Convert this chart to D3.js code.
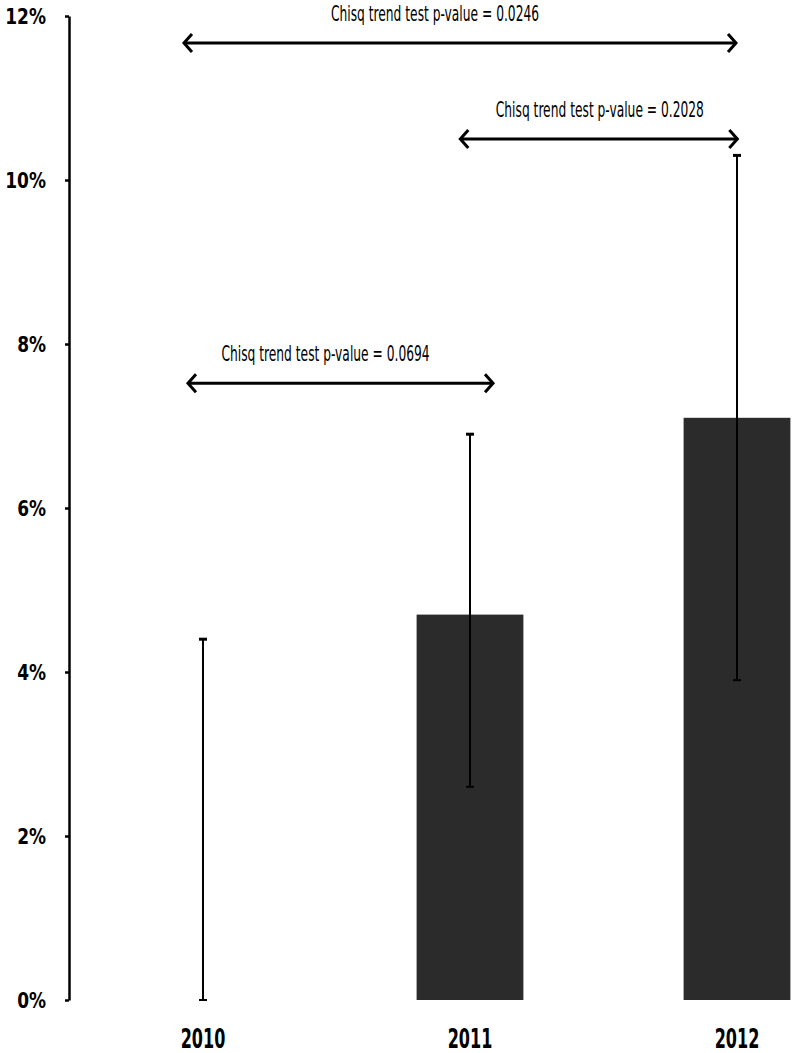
<!DOCTYPE html>
<html>
<head>
<meta charset="utf-8">
<script src="https://cdn.jsdelivr.net/npm/d3@7"></script>
<style>
  body { margin: 0; background: #fff; }
  svg text { font-family: "DejaVu Sans Condensed", "Liberation Sans", sans-serif; }
</style>
</head>
<body>
<div id="chart"></div>
<script>
// data
const years = ["2010", "2011", "2012"];
const rates = [0, 4.7, 7.1];          // %
const ciLow = [0, 2.6, 3.9];
const ciHigh = [4.4, 6.9, 10.3];
const yTicks = [0, 2, 4, 6, 8, 10, 12];

// trend test annotations
const testLabels = ["Chisq trend test p-value = 0.0246", "Chisq trend test p-value = 0.2028", "Chisq trend test p-value = 0.0694"];
const testFrom = ["2010", "2011", "2010"];
const testTo = ["2012", "2012", "2011"];
const testLevel = [11.67, 10.5, 7.52];

const width = 796, height = 1053;

const svg = d3.select("#chart")
  .append("svg")
    .attr("width", width)
    .attr("height", height);

const x = d3.scalePoint()
  .domain(years)
  .range([203, 737]);
const step = x.step();
const barW = step * 0.4;

const y = d3.scaleLinear()
  .domain([0, 12])
  .range([1000, 16]);

// y axis
const yAxis = svg.append("g")
  .attr("transform", "translate(69,0)")
  .call(d3.axisLeft(y).tickValues(yTicks).tickFormat(d => d + "%").tickSize(4).tickSizeOuter(0));
yAxis.select(".domain").attr("stroke", "#000").attr("stroke-width", 2.5);
yAxis.selectAll(".tick line").attr("stroke", "#000").attr("stroke-width", 2.5);
// original font is a narrow one, so squeeze horizontally
yAxis.selectAll(".tick text")
  .attr("x", 0)
  .attr("dy", "0.36em")
  .attr("transform", "translate(-23,0) scale(0.86,1)")
  .attr("fill", "#000")
  .style("font-size", "22px")
  .style("font-weight", "bold");

// bars
svg.selectAll("rect.bar")
  .data(years)
  .join("rect")
    .attr("class", "bar")
    .attr("x", d => x(d) - barW / 2)
    .attr("width", barW)
    .attr("y", (d, i) => y(rates[i]))
    .attr("height", (d, i) => y(0) - y(rates[i]))
    .attr("fill", "#2b2b2b");

// error bars
const err = svg.append("g").attr("stroke", "#000");
err.selectAll("line.stem")
  .data(years)
  .join("line")
    .attr("class", "stem")
    .attr("x1", d => x(d)).attr("x2", d => x(d))
    .attr("y1", (d, i) => y(ciLow[i]))
    .attr("y2", (d, i) => y(ciHigh[i]))
    .attr("stroke-width", 2);
err.selectAll("line.capHi")
  .data(years)
  .join("line")
    .attr("class", "capHi")
    .attr("x1", d => x(d) - 4).attr("x2", d => x(d) + 4)
    .attr("y1", (d, i) => y(ciHigh[i]))
    .attr("y2", (d, i) => y(ciHigh[i]))
    .attr("stroke-width", 3);
err.selectAll("line.capLo")
  .data(years)
  .join("line")
    .attr("class", "capLo")
    .attr("x1", d => x(d) - 4).attr("x2", d => x(d) + 4)
    .attr("y1", (d, i) => y(ciLow[i]))
    .attr("y2", (d, i) => y(ciLow[i]))
    .attr("stroke-width", 2);

// x labels
svg.selectAll("text.year")
  .data(years)
  .join("text")
    .attr("class", "year")
    .attr("transform", d => `translate(${x(d)},1048) scale(0.66,1)`)
    .attr("text-anchor", "middle")
    .style("font-size", "27px")
    .style("font-weight", "bold")
    .text(d => d);

// double arrows
const leftPad = [-0.075, -0.04, -0.06];
const rightPad = [0, 0.005, 0.09];
const labelShift = [-25, 1, -15];
const ann = svg.append("g");
testLabels.forEach((lab, i) => {
  const x0 = x(testFrom[i]) + leftPad[i] * step;
  const x1 = x(testTo[i]) + rightPad[i] * step;
  const yy = y(testLevel[i]);
  const g = ann.append("g")
    .attr("fill", "none")
    .attr("stroke", "#000")
    .attr("stroke-width", 3)
    .attr("stroke-linejoin", "miter");
  g.append("line").attr("x1", x0 + 1).attr("x2", x1 - 1).attr("y1", yy).attr("y2", yy);
  g.append("path").attr("d", `M${x0 + 9},${yy - 9}L${x0 + 1},${yy}L${x0 + 9},${yy + 9}`);
  g.append("path").attr("d", `M${x1 - 9},${yy - 9}L${x1 - 1},${yy}L${x1 - 9},${yy + 9}`);
  ann.append("text")
    .attr("transform", `translate(${(x0 + x1) / 2 + labelShift[i]},${yy - 22}) scale(0.62,1)`)
    .attr("text-anchor", "middle")
    .style("font-size", "22px")
    .text(lab);
});
</script>
</body>
</html>
